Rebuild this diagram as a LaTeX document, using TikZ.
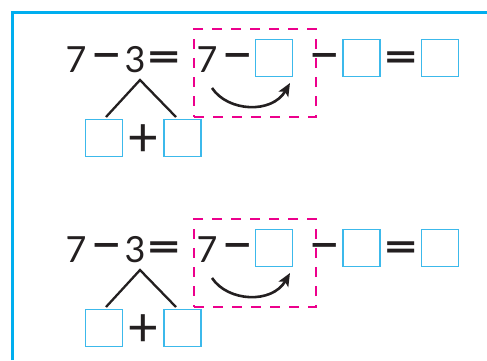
\documentclass[tikz,border=0pt]{standalone}
\usepackage{fontspec}
\setmainfont{Lato}
\usetikzlibrary{arrows.meta}
\definecolor{framecol}{RGB}{0,174,239}
\definecolor{sqcol}{RGB}{60,185,235}
\definecolor{pinkcol}{RGB}{236,0,140}
\definecolor{inkcol}{RGB}{35,31,32}
\newcommand{\widesign}[2]{\scalebox{#1}[1]{#2}}
\tikzset{
  frameline/.style={draw=framecol,line width=3pt},
  blank/.style={draw=sqcol,line width=1.4pt,minimum size=37pt,inner sep=0pt},
  digit/.style={inner sep=0pt,anchor=center,text=inkcol,font=\fontsize{36}{40}\selectfont},
  sign/.style={inner sep=0pt,anchor=center,text=inkcol,font=\fontsize{42}{46}\selectfont\bfseries},
  plainsign/.style={inner sep=0pt,anchor=center,text=inkcol,font=\fontsize{42}{46}\selectfont},
  dashbox/.style={draw=pinkcol,line width=2.7pt,dash pattern=on 10pt off 9pt,minimum width=122pt,minimum height=88pt,inner sep=0pt},
  treeline/.style={draw=inkcol,line width=2.3pt},
  hop/.style={draw=inkcol,line width=2.6pt,-{Stealth[length=13pt,width=11pt,inset=3pt]}}
}
\begin{document}
\begin{tikzpicture}[x=1pt,y=-1pt]
\useasboundingbox (0,0) rectangle (487,360);
\draw[frameline] (12.5,360) -- (12.5,12.5) -- (487,12.5);
\foreach \i/\dy in {1/0,2/190}{
  % dashed group
  \node[dashbox] (grp-\i) at (255,{73+\dy}) {};
  % first part
  \node[digit] (seven-\i) at (76,{60+\dy}) {7};
  \node[sign] (minus-\i) at (107,{61+\dy}) {\widesign{1.25}{−}};
  \node[digit] (three-\i) at (135,{60+\dy}) {3};
  \node[sign] (eq-\i) at (164.5,{61.5+\dy}) {\widesign{1.45}{=}};
  \node[digit] (seventwo-\i) at (207,{60+\dy}) {7};
  \node[sign] (minustwo-\i) at (237.5,{61+\dy}) {\widesign{1.25}{−}};
  \node[blank] (sqA-\i) at (274,{58+\dy}) {};
  \node[sign] (minusthree-\i) at (325,{61+\dy}) {\widesign{1.25}{−}};
  \node[blank] (sqB-\i) at (361.5,{58+\dy}) {};
  \node[sign] (eqtwo-\i) at (401,{61.5+\dy}) {\widesign{1.45}{=}};
  \node[blank] (sqC-\i) at (440,{58+\dy}) {};
  % decomposition
  \node[blank] (sqL-\i) at (104,{138+\dy}) {};
  \node[blank] (sqR-\i) at (182.5,{138+\dy}) {};
  \node[plainsign] (plus-\i) at (143.5,{140.5+\dy}) {\scalebox{1.3}{+}};
  \coordinate (apex-\i) at (140,{80+\dy});
  \coordinate (legL-\i) at (106,{117+\dy});
  \coordinate (legR-\i) at (176,{117+\dy});
  \draw[treeline] (legL-\i) -- (apex-\i) -- (legR-\i);
  % arrow
  \coordinate (hopS-\i) at (212,{88+\dy});
  \coordinate (hopE-\i) at (290,{83+\dy});
  \draw[hop] (hopS-\i) .. controls (228,{112+\dy}) and (272,{114+\dy}) .. (hopE-\i);
}
\end{tikzpicture}
\end{document}
